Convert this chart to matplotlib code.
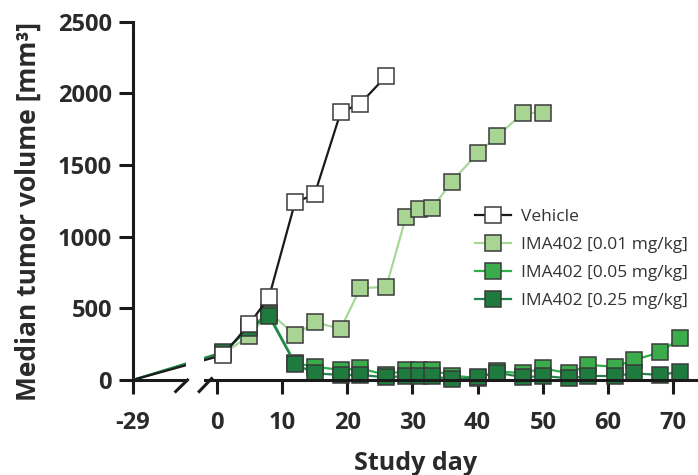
import numpy as np
import matplotlib
matplotlib.use("Agg")
import matplotlib.pyplot as plt

plt.rcParams['font.family'] = ['Open Sans', 'DejaVu Sans']

# data (study day, median tumor volume mm3)
start_day = -29
start_pos = -12.9          # where day -29 sits on the broken axis
gap = (-4.7, -2.0)         # axis break

veh_days = [1, 5, 8, 12, 15, 19, 22, 26]
veh_vals = [175, 392, 577, 1240, 1295, 1868, 1928, 2122]

low_days = [1, 5, 8, 12, 15, 19, 22, 26, 29, 31, 33, 36, 40, 43, 47, 50]
low_vals = [185, 307, 475, 314, 402, 358, 640, 651, 1137, 1195, 1197, 1383, 1581, 1701, 1864, 1864]

hi_days = [1, 5, 8, 12, 15, 19, 22, 26, 29, 31, 33, 36, 40, 43, 47, 50, 54, 57, 61, 64, 68, 71]
mid_vals = [190, 370, 460, 118, 93, 70, 81, 35, 70, 70, 70, 30, 15, 60, 47, 81, 47, 105, 93, 140, 193, 291]
top_vals = [195, 360, 445, 112, 47, 35, 35, 19, 28, 28, 28, 5, 19, 51, 19, 28, 12, 28, 28, 47, 35, 58]

labels = ['Vehicle', 'IMA402 [0.01 mg/kg]', 'IMA402 [0.05 mg/kg]', 'IMA402 [0.25 mg/kg]']

fig = plt.figure(figsize=(6.98, 4.75), dpi=100)
ax = fig.add_axes([0.1901, 0.2, 0.8099, 0.7543])

series = [
    (low_days, low_vals, '#a8d594', '#a8d898', labels[1]),
    (hi_days, mid_vals, '#3aac4c', '#2db04a', labels[2]),
    (hi_days, top_vals, '#1f7a3e', '#23834a', labels[3]),
    (veh_days, veh_vals, 'white', '#1a1a1a', labels[0]),
]
handles = {}
for i, (d, v, fc, lc, lab) in enumerate(series):
    z = 3 + i
    # connection back to day -29 (no marker there)
    ax.plot([start_pos, d[0]], [0, v[0]], color=lc, lw=1.6, zorder=z)
    h, = ax.plot(d, v, color=lc, lw=1.6, marker='s', markersize=11,
                 markerfacecolor=fc, markeredgecolor='#3a3a3a',
                 markeredgewidth=1.1, clip_on=False, zorder=z, label=lab)
    handles[lab] = h

# axis break: blank out lines and spine, draw slashes
ax.axvspan(gap[0], gap[1], ymin=-0.03, ymax=0.2, color='white',
           zorder=10, clip_on=False, lw=0)
ax.plot([-6.3, -4.5], [-80, 0], color='#1a1a1a', lw=2.2, clip_on=False, zorder=11)
ax.plot([-2.7, -0.8], [-80, 10], color='#1a1a1a', lw=2.2, clip_on=False, zorder=11)

ax.set_xlim(start_pos, 73.8)
ax.set_ylim(0, 2500)
ax.set_xticks([start_pos] + list(range(0, 71, 10)))
ax.set_xticklabels([str(start_day)] + [str(t) for t in range(0, 71, 10)])
ax.set_yticks(range(0, 2501, 500))

for s in ['top', 'right']:
    ax.spines[s].set_visible(False)
for s in ['left', 'bottom']:
    ax.spines[s].set_linewidth(2.2)
    ax.spines[s].set_color('#1a1a1a')
ax.spines['bottom'].set_zorder(9)
ax.tick_params(width=2.2, length=10, color='#1a1a1a', direction='out',
               labelsize=17, labelcolor='#2a2a2a', pad=5)
ax.tick_params(axis='x', pad=12)
for t in ax.get_xticklabels() + ax.get_yticklabels():
    t.set_fontweight('bold')

ax.set_xlabel('Study day', fontsize=18, fontweight='bold', color='#2a2a2a', labelpad=12)
ax.set_ylabel('Median tumor volume [mm³]', fontsize=19, fontweight='bold',
              color='#2a2a2a')
ax.yaxis.set_label_coords(-0.16, 0.47)

ax.legend([handles[l] for l in labels], labels, loc='upper left',
          bbox_to_anchor=(0.6055, 0.478), frameon=False, fontsize=12.5,
          handlelength=2.1, handletextpad=0.55, labelspacing=0.68,
          borderpad=0, borderaxespad=0, labelcolor='#333333')

fig.savefig('out.png', dpi=100)
